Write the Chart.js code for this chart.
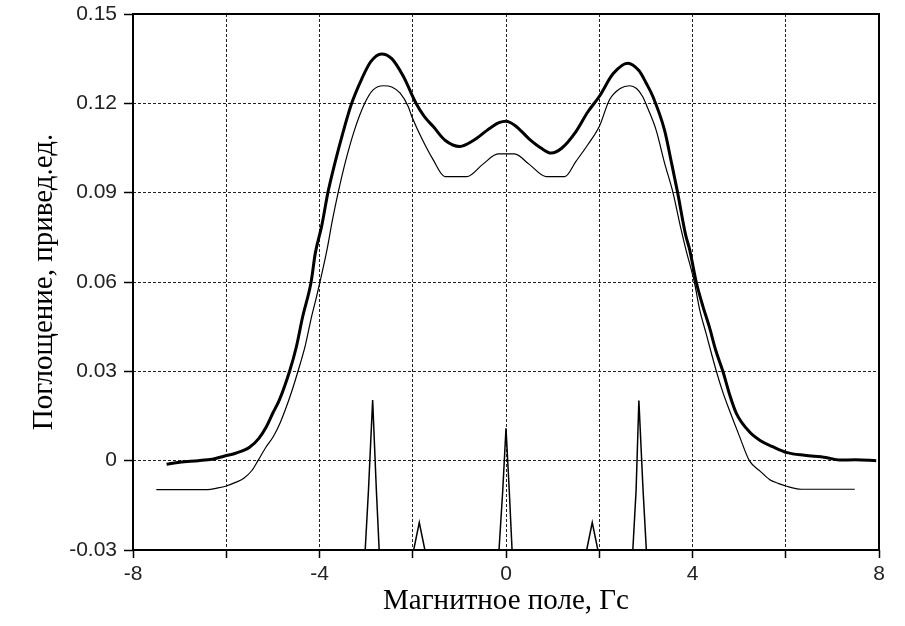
<!DOCTYPE html>
<html>
<head>
<meta charset="utf-8">
<script src="https://cdn.jsdelivr.net/npm/chart.js@4.4.0/dist/chart.umd.min.js"></script>
<style>
  html, body { margin: 0; padding: 0; background: #fff; }
  #wrap { width: 905px; height: 626px; }
</style>
</head>
<body>
<div id="wrap"><canvas id="chart" width="905" height="626"></canvas></div>
<script>
// experiment (thick line)
const fieldExp = [-7.28, -7.0, -6.6, -6.3, -6.05, -5.8, -5.5, -5.3, -5.14, -5.0, -4.86, -4.64, -4.5, -4.36, -4.18, -4.09, -3.95, -3.82, -3.67, -3.5, -3.31, -3.1, -2.9, -2.67, -2.45, -2.2, -1.93, -1.75, -1.56, -1.3, -0.99, -0.7, -0.4, -0.15, 0.0, 0.2, 0.5, 0.75, 0.97, 1.2, 1.5, 1.75, 2.0, 2.3, 2.61, 2.85, 3.0, 3.15, 3.4, 3.55, 3.68, 3.85, 3.94, 4.08, 4.22, 4.36, 4.5, 4.65, 4.8, 4.94, 5.22, 5.45, 5.72, 6.03, 6.4, 6.86, 7.15, 7.5, 7.94];
const absExp = [-0.0012, -0.0005, 0.0, 0.0005, 0.0015, 0.0025, 0.0045, 0.0075, 0.0114, 0.016, 0.0204, 0.0301, 0.038, 0.0484, 0.06, 0.0697, 0.079, 0.09, 0.0999, 0.110, 0.12, 0.128, 0.134, 0.1366, 0.135, 0.129, 0.12, 0.1155, 0.1122, 0.1075, 0.1055, 0.1075, 0.111, 0.1135, 0.114, 0.1125, 0.108, 0.105, 0.1033, 0.105, 0.1105, 0.117, 0.1223, 0.130, 0.1335, 0.131, 0.127, 0.1223, 0.111, 0.100, 0.0901, 0.076, 0.0708, 0.06, 0.052, 0.045, 0.037, 0.0301, 0.022, 0.0159, 0.0097, 0.0068, 0.0047, 0.0027, 0.0018, 0.0011, 0.0002, 0.0003, 0.0];

// calculated envelope (thin line)
const fieldCalc = [-7.5, -6.4, -6.2, -6.0, -5.8, -5.63, -5.45, -5.32, -5.15, -4.99, -4.85, -4.71, -4.58, -4.46, -4.3, -4.17, -4.08, -3.99, -3.84, -3.72, -3.6, -3.45, -3.25, -3.03, -2.85, -2.63, -2.45, -2.27, -2.1, -2.02, -1.8, -1.56, -1.31, -0.84, -0.5, -0.17, 0.18, 0.5, 0.86, 1.26, 1.5, 1.75, 2.0, 2.22, 2.45, 2.65, 2.8, 2.93, 3.05, 3.22, 3.4, 3.58, 3.75, 3.86, 4.04, 4.15, 4.29, 4.51, 4.65, 4.79, 5.0, 5.22, 5.45, 5.65, 5.85, 6.0, 6.33, 7.48];
const absCalc = [-0.0097, -0.0097, -0.0092, -0.0085, -0.0073, -0.006, -0.0033, 0.0, 0.0045, 0.0081, 0.0125, 0.0181, 0.024, 0.0301, 0.039, 0.0484, 0.054, 0.06, 0.0708, 0.081, 0.09, 0.100, 0.111, 0.12, 0.1245, 0.1259, 0.1255, 0.1234, 0.119, 0.1156, 0.108, 0.101, 0.0954, 0.0954, 0.0995, 0.103, 0.103, 0.0995, 0.0954, 0.0954, 0.1005, 0.106, 0.1122, 0.1212, 0.1250, 0.1259, 0.1250, 0.1223, 0.118, 0.111, 0.100, 0.0901, 0.078, 0.0708, 0.06, 0.051, 0.0428, 0.0301, 0.023, 0.017, 0.0085, 0.0, -0.0035, -0.0063, -0.0077, -0.0085, -0.0096, -0.0096];

// line spectrum at the bottom
const fieldLines = [-3.12, -3.02, -2.95, -2.86, -2.78, -2.72, -1.98, -1.86, -1.74, -0.15, -0.07, 0, 0.07, 0.13, 1.73, 1.85, 1.97, 2.72, 2.79, 2.85, 2.94, 3.01, 3.08];
const absLines = [-0.03, -0.03, -0.01, 0.0204, -0.01, -0.03, -0.03, -0.0208, -0.03, -0.03, -0.01, 0.0109, -0.01, -0.03, -0.03, -0.0208, -0.03, -0.03, -0.01, 0.0202, -0.01, -0.03, -0.03];

const xMin = -8, xMax = 8, xStep = 2;
const yMin = -0.03, yMax = 0.15, yStep = 0.03;

function pts(xs, ys) {
    return xs.map((x, i) => ({ x: x, y: ys[i] }));
}

const boxPlugin = {
    id: 'box',
    afterDatasetsDraw(chart) {
        const a = chart.chartArea;
        const c = chart.ctx;
        c.save();
        c.strokeStyle = '#000';
        c.lineWidth = 2;
        c.strokeRect(a.left, a.top, a.right - a.left, a.bottom - a.top);
        c.restore();
    }
};

const ctx = document.getElementById('chart').getContext('2d');
let chart = new Chart(ctx, {
    type: 'scatter',
    data: {
        datasets: [
            {
                label: 'exp',
                data: pts(fieldExp, absExp),
                showLine: true,
                borderColor: '#000',
                borderWidth: 3,
                pointRadius: 0,
                cubicInterpolationMode: 'monotone'
            },
            {
                label: 'calc',
                data: pts(fieldCalc, absCalc),
                showLine: true,
                borderColor: '#000',
                borderWidth: 1.2,
                pointRadius: 0,
                cubicInterpolationMode: 'monotone'
            },
            {
                label: 'lines',
                data: pts(fieldLines, absLines),
                showLine: true,
                borderColor: '#000',
                borderWidth: 1.5,
                pointRadius: 0,
                tension: 0
            }
        ]
    },
    options: {
        responsive: false,
        animation: false,
        layout: { padding: { top: 14, right: 26, left: 0, bottom: 0 } },
        plugins: {
            legend: { display: false },
            tooltip: { enabled: false }
        },
        scales: {
            x: {
                type: 'linear',
                min: xMin,
                max: xMax,
                afterFit: function(s) { s.height = 76; s.paddingLeft = 0; s.paddingRight = 0; },
                ticks: {
                    stepSize: xStep,
                    autoSkip: false,
                    maxRotation: 0,
                    padding: 4,
                    color: '#222',
                    font: { family: 'Liberation Sans', size: 21 },
                    callback: function(v) { return v % 4 === 0 ? String(v) : ''; }
                },
                grid: {
                    color: '#222',
                    lineWidth: 1,
                    tickLength: 8,
                    tickColor: '#000',
                    tickWidth: 1.5
                },
                border: { display: false, dash: [3, 2] },
                title: {
                    display: true,
                    text: 'Магнитное поле, Гс',
                    color: '#000',
                    font: { family: 'Liberation Serif', size: 29 },
                    padding: { top: 0, bottom: 7 }
                }
            },
            y: {
                type: 'linear',
                min: yMin,
                max: yMax,
                afterFit: function(s) { s.width = 133; s.paddingTop = 0; s.paddingBottom = 0; },
                ticks: {
                    stepSize: yStep,
                    padding: 7,
                    color: '#222',
                    font: { family: 'Liberation Sans', size: 21 },
                    callback: function(v) { return String(Math.round(v * 100) / 100); }
                },
                grid: {
                    color: '#222',
                    lineWidth: 1,
                    tickLength: 9,
                    tickColor: '#000',
                    tickWidth: 1.5
                },
                border: { display: false, dash: [3, 2] },
                title: {
                    display: true,
                    text: 'Поглощение, привед.ед.',
                    color: '#000',
                    font: { family: 'Liberation Serif', size: 29 },
                    padding: { top: 27, bottom: 0 }
                }
            }
        }
    },
    plugins: [boxPlugin]
});
</script>
</body>
</html>
